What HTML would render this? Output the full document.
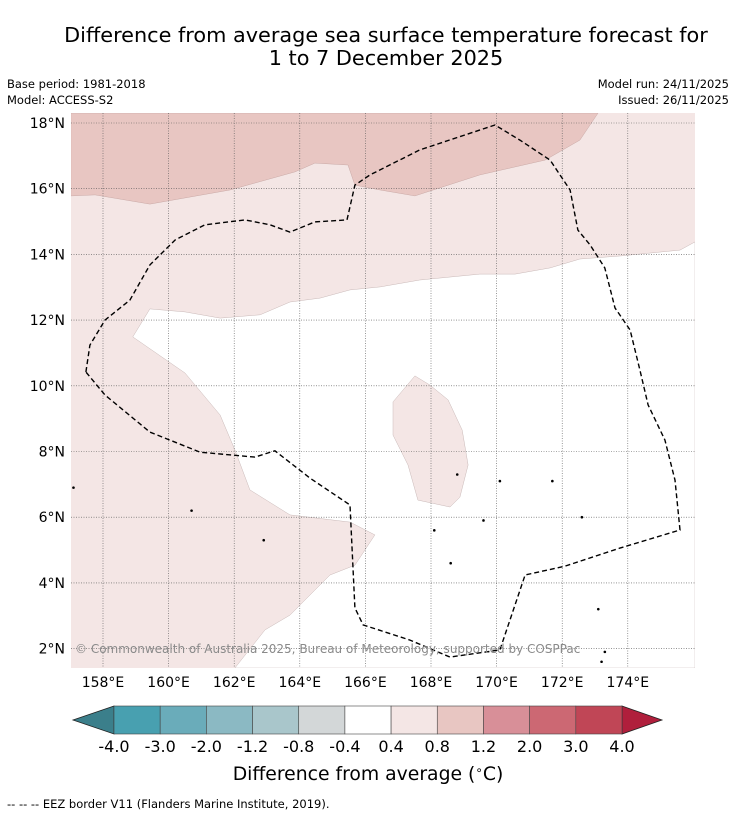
<!DOCTYPE html>
<html><head><meta charset="utf-8">
<style>
body{margin:0;background:#fff;font-family:"DejaVu Sans","Liberation Sans",sans-serif;}
svg{display:block}
</style></head>
<body>
<svg id="chart" width="736" height="816" viewBox="0 0 736 816" xmlns="http://www.w3.org/2000/svg">
<rect width="736" height="816" fill="#fff"/>
<text x="386" y="42" text-anchor="middle" font-size="20.8" fill="#000">Difference from average sea surface temperature forecast for</text>
<text x="386" y="65" text-anchor="middle" font-size="20.8" fill="#000">1 to 7 December 2025</text>
<text x="7" y="88" font-size="11.5">Base period: 1981-2018</text>
<text x="7" y="104" font-size="11.5">Model: ACCESS-S2</text>
<text x="729" y="88" font-size="11.5" text-anchor="end">Model run: 24/11/2025</text>
<text x="729" y="104" font-size="11.5" text-anchor="end">Issued: 26/11/2025</text>
<defs><clipPath id="mapclip"><rect x="71" y="113" width="624" height="555"/></clipPath></defs>
<g id="map" clip-path="url(#mapclip)"></g>
<g id="axes"></g>
<text x="75" y="653" font-size="12" fill="#8a8a8a">© Commonwealth of Australia 2025, Bureau of Meteorology, supported by COSPPac</text>
<g id="cbar"></g>
<text x="368" y="780" text-anchor="middle" font-size="18.8">Difference from average (<tspan font-size="12" dy="-6">∘</tspan><tspan dy="6">C)</tspan></text>
<text x="7" y="808" font-size="11.5">--  --  -- EEZ border V11 (Flanders Marine Institute, 2019).</text>
</svg>
<script>
const latTicks=[18,16,14,12,10,8,6,4,2];
const lonTicks=[158,160,162,164,166,168,170,172,174];
const cbarLevels=["-4.0","-3.0","-2.0","-1.2","-0.8","-0.4","0.4","0.8","1.2","2.0","3.0","4.0"];
const cbarColors=["#48a0b0","#6aacba","#8bb9c3","#a9c6cb","#d3d7d8","#ffffff","#f4e6e5","#e8c6c2","#d88f98","#cc6873","#c04656"];
const cbarLow="#3b7f8b", cbarHigh="#b01f3c";
const whiteRegion=[[159.43,12.34],[160.5,12.25],[161.57,12.06],[162.79,12.16],[163.7,12.55],[164.62,12.67],[165.53,12.92],[166.45,13.01],[167.66,13.22],[169.49,13.4],[170.56,13.4],[171.63,13.59],[172.54,13.86],[173.76,13.95],[175.59,14.13],[176.05,14.38],[176.05,1.41],[162.02,1.41],[162.94,2.57],[163.7,3.02],[164.46,3.78],[164.92,4.24],[165.68,4.54],[166.29,5.46],[165.53,5.85],[163.7,6.07],[162.48,6.83],[162.02,8.05],[161.57,9.11],[160.5,10.39],[158.91,11.49]];
const warmBand=[[157.02,18.3],[173.09,18.3],[172.54,17.48],[171.48,16.87],[169.49,16.42],[167.51,15.78],[166.45,15.96],[165.68,16.11],[165.47,16.72],[164.46,16.78],[163.85,16.51],[161.87,15.96],[159.43,15.53],[157.76,15.81],[157.02,15.78]];
const island=[[167.51,10.3],[166.84,9.51],[166.84,8.5],[167.3,7.59],[167.6,6.52],[168.58,6.31],[168.88,6.61],[169.13,7.59],[168.95,8.65],[168.52,9.57],[167.97,10.02]];
const eez=[[157.48,10.42],[157.6,11.24],[158.06,12],[158.82,12.61],[159.43,13.68],[160.2,14.44],[161.11,14.9],[162.33,15.05],[163.09,14.9],[163.7,14.68],[164.46,14.99],[165.44,15.05],[165.68,16.11],[166.14,16.42],[167.66,17.18],[169.95,17.94],[170.71,17.48],[171.63,16.87],[172.24,15.96],[172.48,14.74],[172.85,14.29],[173.3,13.59],[173.61,12.37],[174.07,11.7],[174.37,10.48],[174.62,9.42],[175.13,8.35],[175.44,7.13],[175.59,5.61],[173.76,5.06],[172.09,4.51],[170.87,4.24],[170.1,1.96],[168.58,1.74],[167.36,2.26],[165.93,2.72],[165.68,3.24],[165.53,6.37],[164.31,7.19],[163.24,8.02],[162.63,7.83],[160.96,7.98],[159.43,8.59],[158.06,9.72],[157.48,10.42]];
const islets=[[157.1,6.9],[160.7,6.2],[162.9,5.3],[170.1,7.1],[171.7,7.1],[172.6,6.0],[168.8,7.3],[169.6,5.9],[168.6,4.6],[173.1,3.2],[173.3,1.9],[173.2,1.6],[168.1,5.6]];
const NS="http://www.w3.org/2000/svg";
const X=lon=>103+(lon-158)*32.8;
const Y=lat=>123+(18-lat)*32.85;
const pts=a=>a.map(p=>X(p[0]).toFixed(1)+","+Y(p[1]).toFixed(1)).join(" ");
function mk(tag,attrs,parent){const e=document.createElementNS(NS,tag);for(const k in attrs)e.setAttribute(k,attrs[k]);parent.appendChild(e);return e;}
const map=document.getElementById('map');
let bg=mk('rect',{x:71,y:113,width:624,height:555,fill:"#f4e6e5"},map);


let w=mk('polygon',{points:pts(whiteRegion),fill:"#ffffff",stroke:"#c9b9b8","stroke-width":0.5},map);


let wb=mk('polygon',{points:pts(warmBand),fill:"#e8c6c2",stroke:"#c9a9a6","stroke-width":0.5},map);


let is=mk('polygon',{points:pts(island),fill:"#f4e6e5",stroke:"#c9b9b8","stroke-width":0.5},map);


latTicks.forEach(l=>{let g=mk('line',{x1:71,x2:695,y1:Y(l),y2:Y(l),stroke:"#555","stroke-width":0.6,"stroke-dasharray":"1,1.5"},map);

});
lonTicks.forEach(l=>{let g=mk('line',{x1:X(l),x2:X(l),y1:113,y2:668,stroke:"#555","stroke-width":0.6,"stroke-dasharray":"1,1.5"},map);

});
islets.forEach(p=>{let c=mk('circle',{cx:X(p[0]),cy:Y(p[1]),r:1.3,fill:"#000",stroke:"none"},map);

});
let ez=mk('polyline',{points:pts(eez),fill:"none",stroke:"#000","stroke-width":1.4,"stroke-dasharray":"5,3"},map);


const axes=document.getElementById('axes');
latTicks.forEach(l=>{let t=mk('text',{x:65,y:Y(l)+5,"text-anchor":"end","font-size":14},axes);t.textContent=l+"°N";

});
lonTicks.forEach(l=>{let t=mk('text',{x:X(l),y:687,"text-anchor":"middle","font-size":14},axes);t.textContent=l+"°E";

});
const cb=document.getElementById('cbar');
const cx0=114,cx1=622,cy0=706,cy1=734,n=cbarColors.length,bw=(cx1-cx0)/n;
let lt=mk('polygon',{points:`${cx0},${cy0} 73,${(cy0+cy1)/2} ${cx0},${cy1}`,fill:cbarLow,stroke:"#222","stroke-width":0.8},cb);


let rt=mk('polygon',{points:`${cx1},${cy0} 662,${(cy0+cy1)/2} ${cx1},${cy1}`,fill:cbarHigh,stroke:"#222","stroke-width":0.8},cb);


cbarColors.forEach((c,i)=>{let r=mk('rect',{x:cx0+i*bw,y:cy0,width:bw,height:cy1-cy0,fill:c,stroke:"#444","stroke-width":0.6},cb);

});
cbarLevels.forEach((s,i)=>{let t=mk('text',{x:cx0+i*bw,y:752,"text-anchor":"middle","font-size":16},cb);t.textContent=s;

});
</script>
</body></html>
